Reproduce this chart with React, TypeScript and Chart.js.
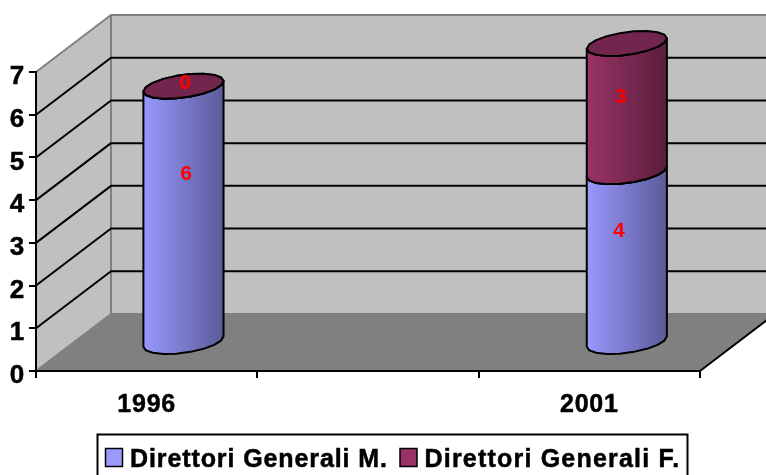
import React, { useEffect, useRef } from "react";
import { Chart, registerables } from "chart.js";

Chart.register(...registerables);

const categories = ["1996", "", "2001"];
const direttoriM = [6, null, 4];
const direttoriF = [0, null, 3];
const seriesNames = ["Direttori Generali M.", "Direttori Generali F."];

const FONT = '"Liberation Sans", Arial, sans-serif';
const DEPTH = { x: 75, y: -57 };
const CYL_DEPTH = 0.22;
const STYLE = [
  { fill: "#9999FF", dark: "#5A5A98", cap: "#7373BF", spacing: "0.9px" },
  { fill: "#993366", dark: "#5A1E3C", cap: "#73264D", spacing: "1.2px" },
];
const LABEL_NUDGE: Record<string, [number, number]> = {
  "0-0": [2, -40],
  "0-2": [-8, -25],
  "1-0": [1, -3],
  "1-2": [-6, -10],
};

function polygon(ctx: CanvasRenderingContext2D, pts: number[][]) {
  ctx.beginPath();
  pts.forEach((p, i) => (i ? ctx.lineTo(p[0], p[1]) : ctx.moveTo(p[0], p[1])));
  ctx.closePath();
}

const scene = {
  id: "scene3d",
  beforeUpdate(chart: any) {
    chart.ctx.letterSpacing = "0.8px";
  },
  beforeDraw(chart: any) {
    const { ctx, chartArea: a } = chart;
    const y = chart.scales.y;
    const d = DEPTH;
    ctx.save();
    ctx.lineJoin = "round";
    polygon(ctx, [[a.left, a.bottom], [a.left, a.top], [a.left + d.x, a.top + d.y], [a.left + d.x, a.bottom + d.y]]);
    ctx.fillStyle = "#C0C0C0";
    ctx.fill();
    polygon(ctx, [[a.left + d.x, a.top + d.y], [a.right + d.x, a.top + d.y], [a.right + d.x, a.bottom + d.y], [a.left + d.x, a.bottom + d.y]]);
    ctx.fill();
    polygon(ctx, [[a.left, a.bottom], [a.right, a.bottom], [a.right + d.x, a.bottom + d.y], [a.left + d.x, a.bottom + d.y]]);
    ctx.fillStyle = "#808080";
    ctx.fill();

    // wall edges
    ctx.strokeStyle = "#808080";
    ctx.lineWidth = 2;
    ctx.beginPath();
    ctx.moveTo(a.left, a.top);
    ctx.lineTo(a.left + d.x, a.top + d.y);
    ctx.lineTo(a.right + d.x, a.top + d.y);
    ctx.moveTo(a.left + d.x, a.top + d.y);
    ctx.lineTo(a.left + d.x, a.bottom + d.y);
    ctx.lineTo(a.right + d.x, a.bottom + d.y);
    ctx.moveTo(a.left + d.x, a.bottom + d.y);
    ctx.lineTo(a.left, a.bottom);
    ctx.stroke();

    // gridlines on both walls
    ctx.strokeStyle = "#000";
    ctx.beginPath();
    y.ticks.forEach((t: any) => {
      if (t.value <= y.min || t.value >= y.max) return;
      const py = y.getPixelForValue(t.value);
      ctx.moveTo(a.left, py);
      ctx.lineTo(a.left + d.x, py + d.y);
      ctx.lineTo(a.right + d.x, py + d.y);
    });
    ctx.moveTo(a.right, a.bottom);
    ctx.lineTo(a.right + d.x, a.bottom + d.y);
    ctx.stroke();
    ctx.restore();
  },
  beforeDatasetsDraw(chart: any) {
    const { ctx } = chart;
    const N = 18;
    chart.data.datasets.forEach((ds: any, di: number) => {
      const meta = chart.getDatasetMeta(di);
      meta.data.forEach((el: any, i: number) => {
        if (ds.data[i] == null) return;
        const st = STYLE[di];
        const cx = el.x + DEPTH.x / 2 - (i === 0 ? 0.7 : 0);
        const top = el.y + DEPTH.y / 2;
        const bot = el.base + DEPTH.y / 2;
        const ra = el.width / 2;
        const sx = CYL_DEPTH * DEPTH.x;
        const sy = CYL_DEPTH * DEPTH.y;
        const pt = (t: number, yc: number) => [cx + ra * Math.cos(t) + sx * Math.sin(t), yc + sy * Math.sin(t)];
        const t0 = Math.atan2(sx, ra);
        const half = Math.hypot(ra, sx);
        const lower: number[][] = [];
        const lowerTop: number[][] = [];
        for (let k = 0; k <= N / 2; k++) {
          const t = t0 + Math.PI + (k * 2 * Math.PI) / N;
          lower.push(pt(t, bot));
          lowerTop.push(pt(t, top));
        }
        ctx.save();
        ctx.lineJoin = "round";
        ctx.strokeStyle = "#000";
        ctx.lineWidth = 2;
        if (ds.data[i] > 0) {
          const g = ctx.createLinearGradient(cx - half, 0, cx + half, 0);
          g.addColorStop(0, st.fill);
          g.addColorStop(1, st.dark);
          polygon(ctx, [...lower, ...lowerTop.slice().reverse()]);
          ctx.fillStyle = g;
          ctx.fill();
          ctx.stroke();
        }
        const cap: number[][] = [];
        for (let k = 0; k < N; k++) cap.push(pt(t0 + (k * 2 * Math.PI) / N, top));
        polygon(ctx, cap);
        ctx.fillStyle = st.cap;
        ctx.fill();
        ctx.stroke();
        ctx.restore();
      });
    });
    // data labels
    chart.data.datasets.forEach((ds: any, di: number) => {
      chart.getDatasetMeta(di).data.forEach((el: any, i: number) => {
        if (ds.data[i] == null) return;
        const n = LABEL_NUDGE[di + "-" + i] || [0, 0];
        ctx.save();
        ctx.letterSpacing = "0px";
        ctx.font = "bold 21px " + FONT;
        ctx.fillStyle = "#FF0000";
        ctx.textAlign = "center";
        ctx.textBaseline = "middle";
        ctx.fillText(String(ds.data[i]), el.x + DEPTH.x / 2 + n[0], (el.y + el.base) / 2 + DEPTH.y / 2 + n[1]);
        ctx.restore();
      });
    });
    return false;
  },
  afterDraw(chart: any) {
    const { ctx } = chart;
    ctx.save();
    ctx.strokeStyle = "#000";
    ctx.lineWidth = 2;
    ctx.strokeRect(97.5, 434.5, 590, 50);
    ctx.font = "bold 25px " + FONT;
    ctx.textBaseline = "alphabetic";
    ctx.textAlign = "left";
    chart.data.datasets.forEach((ds: any, di: number) => {
      const off = di * 294.5;
      ctx.fillStyle = ds.backgroundColor;
      ctx.fillRect(105.5 + off, 448.5, 17, 18);
      ctx.lineWidth = 1.5;
      ctx.strokeRect(105.5 + off, 448.5, 17, 18);
      ctx.fillStyle = "#000";
      ctx.letterSpacing = STYLE[di].spacing;
      ctx.lineWidth = 0.5;
      ctx.strokeText(ds.label, 130 + off, 467);
      ctx.fillText(ds.label, 130 + off, 467);
    });
    ctx.restore();
  },
};

export default function App() {
  const ref = useRef<HTMLCanvasElement>(null);
  useEffect(() => {
    const chart = new Chart(ref.current!, {
      type: "bar",
      data: {
        labels: categories,
        datasets: [
          { label: seriesNames[0], data: direttoriM, backgroundColor: STYLE[0].fill, stack: "s" },
          { label: seriesNames[1], data: direttoriF, backgroundColor: STYLE[1].fill, stack: "s" },
        ],
      },
      options: {
        responsive: false,
        animation: false,
        layout: { padding: { top: 72, right: 66, left: 0, bottom: 0 } },
        categoryPercentage: 1,
        barPercentage: 0.33,
        plugins: { legend: { display: false }, tooltip: { enabled: false }, title: { display: false } },
        scales: {
          x: {
            stacked: true,
            afterFit(s: any) { s.height = 104; },
            border: { color: "#000", width: 2 },
            grid: { drawOnChartArea: false, drawTicks: true, tickLength: 7, color: "#000", lineWidth: 2 },
            ticks: {
              color: "#000",
              font: { family: FONT, size: 25, weight: "bold" },
              padding: 12,
              maxRotation: 0,
              autoSkip: false,
              textStrokeColor: "#000",
              textStrokeWidth: 0.5,
            },
          },
          y: {
            stacked: true,
            min: 0,
            max: 7,
            afterFit(s: any) { s.width = 36; },
            border: { color: "#000", width: 2 },
            grid: { drawOnChartArea: false, drawTicks: true, tickLength: 7, color: "#000", lineWidth: 2 },
            ticks: {
              stepSize: 1,
              color: "#000",
              font: { family: FONT, size: 26, weight: "bold" },
              padding: 4,
              labelOffset: 5,
              textStrokeColor: "#000",
              textStrokeWidth: 0.5,
            },
          },
        },
      } as any,
      plugins: [scene as any],
    });
    return () => chart.destroy();
  }, []);
  return (
    <canvas
      ref={ref}
      width={766}
      height={475}
      style={{ position: "fixed", left: 0, top: 0, width: 766, height: 475, display: "block" }}
    />
  );
}
